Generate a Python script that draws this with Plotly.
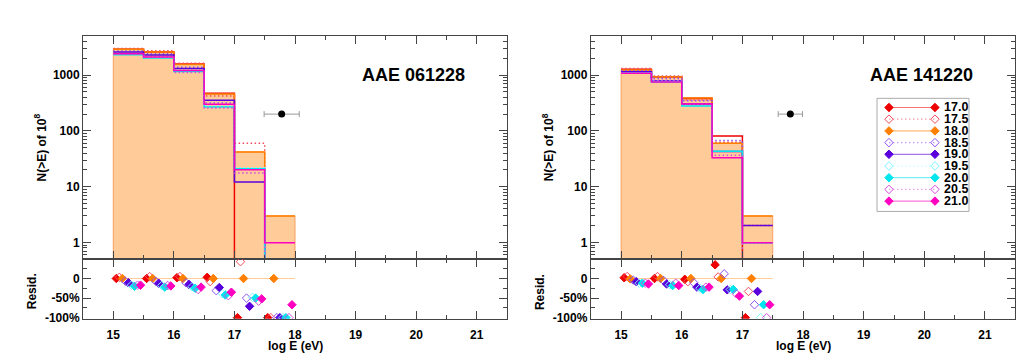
import plotly.graph_objects as go

W, H = 1029, 362
FONT = "Liberation Sans, Arial, Helvetica, sans-serif"

# ---------------- data ----------------
models = ["17.0", "17.5", "18.0", "18.5", "19.0", "19.5", "20.0", "20.5", "21.0"]

# AAE 061228
edges_061228 = [15.0, 15.5, 16.0, 16.5, 17.0, 17.5, 18.0]
counts_061228 = [2900, 2600, 1550, 460, 42, 3]
r061228_170 = [0, 0, 2, 3, -100, -100]
r061228_175 = [3, 5, 5, -8, 43, -100]
r061228_180 = [0, 0, 0, 0, 0, 0]
r061228_185 = [-7, -7, -11, -31, -50, -100]
r061228_190 = [-11, -12, -15, -23, -71, -100]
r061228_195 = [-17, -18, -21, -39, -48, -100]
r061228_200 = [-20, -22, -25, -42, -50, -100]
r061228_205 = [-17, -18, -28, -44, -58, -100]
r061228_210 = [-17, -19, -22, -35, -52, -67]
obs_061228_x, obs_061228_y, obs_061228_err = 17.78, 200, 0.29

# AAE 141220
edges_141220 = [15.0, 15.5, 16.0, 16.5, 17.0, 17.5]
counts_141220 = [1250, 920, 390, 60, 3]
r141220_170 = [2, 0, -2, 35, -100]
r141220_175 = [5, 5, -8, 4, -33]
r141220_180 = [-1, 0, 0, 0, 0]
r141220_185 = [-4, -5, -11, 12, -67]
r141220_190 = [-8, -14, -22, -29, -33]
r141220_195 = [-12, -16, -25, -28, -100]
r141220_200 = [-12, -18, -28, -28, -67]
r141220_205 = [-12, -12, -22, -39, -100]
r141220_210 = [-14, -18, -22, -45, -67]
obs_141220_x, obs_141220_y, obs_141220_err = 17.79, 200, 0.20

resid_061228 = [r061228_170, r061228_175, r061228_180, r061228_185, r061228_190,
                r061228_195, r061228_200, r061228_205, r061228_210]
resid_141220 = [r141220_170, r141220_175, r141220_180, r141220_185, r141220_190,
                r141220_195, r141220_200, r141220_205, r141220_210]

# ---------------- styles ----------------
colors = ["#EE0000", "#F24A5A", "#FF7F00", "#9050F0", "#5A00DC",
          "#7FF5FF", "#00E5EE", "#D848E0", "#FF00C0"]
is_open = [False, True, False, True, False, True, False, True, False]
DOT = "1.5px,2.5px"
dashes = ["solid" if not o else DOT for o in is_open]
FILL = "#FFCC99"
EDGE = "#F5A060"
AXC = "#444444"


def light(hexc, a=0.5):
    h = hexc.lstrip("#")
    r, g, b = int(h[0:2], 16), int(h[2:4], 16), int(h[4:6], 16)
    return f"rgba({r},{g},{b},{a})"


TOP_Y = (1 - 263.7 / H, 1 - 36.7 / H)
RES_Y = (1 - 324.0 / H, 1 - 263.7 / H)
PANEL_X = [(83.0 / W, 507.0 / W), (590.8 / W, 1015.3 / W)]

panels = [
    dict(edges=edges_061228, counts=counts_061228, resid=resid_061228,
         obs=(obs_061228_x, obs_061228_y, obs_061228_err), title="AAE 061228"),
    dict(edges=edges_141220, counts=counts_141220, resid=resid_141220,
         obs=(obs_141220_x, obs_141220_y, obs_141220_err), title="AAE 141220"),
]

fig = go.Figure()
layout = {}
annotations = []

tickfont = dict(family=FONT, size=12, color="black", weight="bold")
base_axis = dict(showline=True, linecolor=AXC, linewidth=1, mirror="ticks",
                 ticks="inside", tickcolor=AXC, ticklen=8, tickwidth=1,
                 showgrid=False, zeroline=False, tickfont=tickfont)

log_minor = [m * 10 ** k for k in range(-1, 4) for m in range(2, 10)]


def nm(kind, n):
    return kind + ("" if n == 1 else str(n))


def key(kind, n):
    return kind + "axis" + ("" if n == 1 else str(n))


for p, pan in enumerate(panels):
    nt, nr = 2 * p + 1, 2 * p + 2
    xt, yt, xr, yr = nm("x", nt), nm("y", nt), nm("x", nr), nm("y", nr)
    edges, counts = pan["edges"], pan["counts"]
    nb = len(counts)

    # data histogram (filled step)
    fx, fy = [edges[0]], [1e-3]
    for i in range(nb):
        fx += [edges[i], edges[i + 1]]
        fy += [counts[i], counts[i]]
    fx.append(edges[-1]); fy.append(1e-3)
    fig.add_trace(go.Scatter(x=fx, y=fy, mode="lines", fill="toself",
                             fillcolor=FILL, line=dict(color=EDGE, width=1),
                             xaxis=xt, yaxis=yt, showlegend=False, hoverinfo="skip"))

    # model step lines
    for m in range(len(models)):
        vals = [max(counts[i] * (1 + pan["resid"][m][i] / 100.0), 1e-3) for i in range(nb)]
        fig.add_trace(go.Scatter(x=edges, y=vals + [vals[-1]], mode="lines",
                                 line=dict(color=colors[m], width=1.5, dash=dashes[m], shape="hv"),
                                 xaxis=xt, yaxis=yt, showlegend=False, hoverinfo="skip"))

    # observed point
    ox, oy, oe = pan["obs"]
    fig.add_trace(go.Scatter(x=[ox], y=[oy], mode="markers",
                             marker=dict(color="black", size=7),
                             error_x=dict(type="data", array=[oe], color="#999999",
                                          thickness=1, width=3),
                             xaxis=xt, yaxis=yt, showlegend=False))

    # residual zero line
    fig.add_trace(go.Scatter(x=[edges[0], edges[-1]], y=[0, 0], mode="lines",
                             line=dict(color="#FFCC99", width=1.2),
                             xaxis=xr, yaxis=yr, showlegend=False, hoverinfo="skip"))
    for m in range(len(models)):
        xs = [edges[i] + 0.05 * (m + 1) for i in range(nb)]
        sym = "diamond-open" if is_open[m] else "diamond"
        fig.add_trace(go.Scatter(x=xs, y=pan["resid"][m], mode="markers",
                                 marker=dict(symbol=sym, size=6.5, color=colors[m],
                                             line=dict(color=colors[m], width=1)),
                                 xaxis=xr, yaxis=yr, showlegend=False))

    x0, x1 = PANEL_X[p]
    layout[key("x", nt)] = dict(base_axis, domain=[x0, x1], anchor=yt, range=[14.5, 21.5],
                               tickmode="linear", tick0=15, dtick=1, showticklabels=False,
                               minor=dict(ticks="inside", ticklen=4, tickcolor=AXC, dtick=0.5, tick0=15))
    layout[key("y", nt)] = dict(base_axis, domain=list(TOP_Y), anchor=xt, type="log",
                               range=[-0.30103, 3.69897], tickmode="array",
                               tickvals=[1, 10, 100, 1000], ticktext=["1", "10", "100", "1000"],
                               minor=dict(ticks="inside", ticklen=4, tickcolor=AXC,
                                          tickmode="array", tickvals=log_minor))
    layout[key("x", nr)] = dict(base_axis, domain=[x0, x1], anchor=yr, range=[14.5, 21.5],
                               tickmode="linear", tick0=15, dtick=1, ticklabelstandoff=5,
                               minor=dict(ticks="inside", ticklen=4, tickcolor=AXC, dtick=0.5, tick0=15))
    layout[key("y", nr)] = dict(base_axis, domain=list(RES_Y), anchor=xr, range=[-102.5, 49],
                               tickmode="array", tickvals=[-100, -50, 0],
                               ticktext=["-100%", "-50%", "0"],
                               minor=dict(ticks="inside", ticklen=4, tickcolor=AXC,
                                          tickmode="array", tickvals=[-75, -25, 25]))

    off = (x0 * W)
    common = dict(xref="paper", yref="paper", showarrow=False, xanchor="center", yanchor="middle")
    annotations += [
        dict(common, text="<b>" + pan["title"] + "</b>", x=(off + 330.5) / W, y=1 - 76 / H,
             font=dict(family=FONT, size=18, color="black")),
        dict(common, text="<b>N(>E) of 10<sup>8</sup></b>", x=(off - 43) / W, y=1 - 150 / H,
             textangle=-90, font=dict(family=FONT, size=12, color="black")),
        dict(common, text="<b>Resid.</b>", x=(off - 51.5) / W, y=1 - 296.7 / H,
             textangle=-90, font=dict(family=FONT, size=12, color="black")),
        dict(common, text="<b>log E (eV)</b>", x=(x0 + x1) / 2, y=1 - 351.5 / H,
             font=dict(family=FONT, size=12, color="black")),
    ]

# ---------------- legend (drawn manually) ----------------
LEG_X = (877 / W, 969 / W)
LEG_Y = (1 - 215 / H, 1 - 100 / H)
for m in range(len(models)):
    sym = "diamond-open" if is_open[m] else "diamond"
    fig.add_trace(go.Scatter(x=[0.13, 0.63], y=[m, m], mode="lines+markers",
                             line=dict(color=light(colors[m], 0.55), width=1.2, dash=dashes[m]),
                             marker=dict(symbol=sym, size=6.5, color=colors[m],
                                         line=dict(color=colors[m], width=1)),
                             xaxis="x5", yaxis="y5", showlegend=False, hoverinfo="skip"))
    annotations.append(dict(text="<b>" + models[m] + "</b>", x=0.71, y=m, xref="x5", yref="y5",
                            xanchor="left", yanchor="middle", showarrow=False,
                            font=dict(family=FONT, size=12.5, color="black")))
layout["xaxis5"] = dict(domain=list(LEG_X), range=[0, 1], visible=False, anchor="y5", fixedrange=True)
layout["yaxis5"] = dict(domain=[1 - 210.45 / H, 1 - 103.35 / H], range=[8.5, -0.5],
                        visible=False, anchor="x5", fixedrange=True)

shapes = [dict(type="rect", xref="paper", yref="paper", x0=LEG_X[0], x1=LEG_X[1],
               y0=LEG_Y[0], y1=LEG_Y[1], line=dict(color="#AAAAAA", width=1),
               fillcolor="rgba(0,0,0,0)", layer="above")]

fig.update_layout(width=W, height=H, autosize=False,
                  margin=dict(l=0, r=0, t=0, b=0),
                  paper_bgcolor="white", plot_bgcolor="rgba(0,0,0,0)",
                  font=dict(family=FONT, size=12, color="black"),
                  annotations=annotations, shapes=shapes, showlegend=False,
                  **layout)

fig.write_html("out.html", config={"displayModeBar": False},
               post_script="document.body.style.margin='0px';")
